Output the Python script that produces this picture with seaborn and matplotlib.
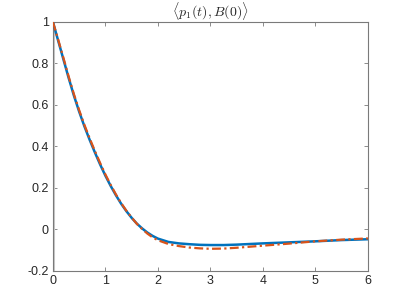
import matplotlib
matplotlib.use("Agg")
import matplotlib.pyplot as plt
import seaborn as sns
import pandas as pd

t = [0, 0.1, 0.2, 0.3, 0.4, 0.5, 0.6, 0.7, 0.8, 0.9, 1.0, 1.1, 1.2, 1.3, 1.4,
     1.5, 1.6, 1.7, 1.8, 1.9, 2.0, 2.2, 2.4, 2.6, 2.8, 3.0, 3.25, 3.5, 3.75,
     4.0, 4.5, 5.0, 5.5, 6.0]
blue = [1.0, 0.91, 0.82, 0.73, 0.645, 0.568, 0.497, 0.432, 0.371, 0.313, 0.259,
        0.21, 0.165, 0.124, 0.088, 0.056, 0.028, 0.005, -0.015, -0.031, -0.044,
        -0.060, -0.067, -0.071, -0.074, -0.075, -0.075, -0.073, -0.070, -0.067,
        -0.062, -0.057, -0.051, -0.047]
orange = [1.0, 0.915, 0.827, 0.737, 0.652, 0.575, 0.504, 0.439, 0.378, 0.32, 0.265,
          0.215, 0.169, 0.127, 0.09, 0.057, 0.027, 0.002, -0.02, -0.038, -0.052,
          -0.070, -0.080, -0.087, -0.091, -0.093, -0.092, -0.088, -0.083, -0.078,
          -0.068, -0.057, -0.049, -0.043]
xticks = [0, 1, 2, 3, 4, 5, 6]
yticks = [-0.2, 0, 0.2, 0.4, 0.6, 0.8, 1]
ytick_labels = ["-0.2", "0", "0.2", "0.4", "0.6", "0.8", "1"]
title = r"$\langle p_1(t), B(0)\rangle$"

sns.set_style("ticks")
plt.rcParams['font.family'] = ['Liberation Sans', 'DejaVu Sans']
plt.rcParams['mathtext.fontset'] = 'cm'

fig = plt.figure(figsize=(4.07, 3.05), dpi=100)
ax = fig.add_axes([0.130, 0.1115, 0.774, 0.8165])

df = pd.DataFrame({"t": t, "blue": blue, "orange": orange})
ax.axvline(0, color="#c8c8c8", lw=2.2, zorder=1)
sns.lineplot(data=df, x="t", y="blue", ax=ax, color="#0072BD", lw=1.8, zorder=3)
sns.lineplot(data=df, x="t", y="orange", ax=ax, color="#D95319", lw=1.6,
             linestyle=(0, (4, 1.5, 1, 1.5)), zorder=4)

ax.set_xlim(0, 6)
ax.set_ylim(-0.2, 1)
ax.set_xticks(xticks)
ax.set_xticklabels([str(v) for v in xticks])
ax.set_yticks(yticks)
ax.set_yticklabels(ytick_labels)
ax.set_xlabel("")
ax.set_ylabel("")
ax.set_title(title, fontsize=10, pad=4, color="#262626")

for s in ax.spines.values():
    s.set_visible(True)
    s.set_color("#7a7a7a")
    s.set_linewidth(0.8)
ax.tick_params(direction="in", top=True, right=True, length=3, width=0.6,
               colors="#7a7a7a", labelcolor="#262626", labelsize=9, pad=3)

fig.savefig("out.png", dpi=100)
